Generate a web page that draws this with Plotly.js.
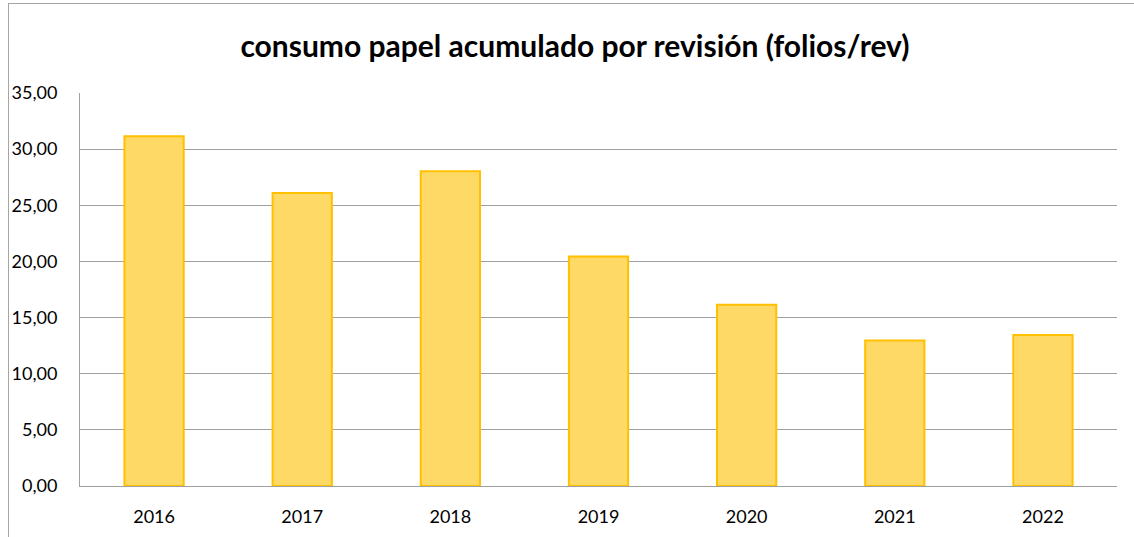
<!DOCTYPE html>
<html>
<head>
<meta charset="utf-8">
<script src="https://cdn.plot.ly/plotly-3.0.1.min.js"></script>
<style>
  html, body { margin: 0; padding: 0; background: #fff; }
  #wrap { position: relative; width: 1134px; height: 537px; overflow: hidden; }
  #chart { position: absolute; left: 0; top: 0; width: 1134px; height: 537px; }
  #frame { position: absolute; left: 8px; top: 3px; width: 1140px; height: 560px; border: 1px solid #a6a6a6; pointer-events: none; }
</style>
</head>
<body>
<div id="wrap">
  <div id="chart"></div>
  <div id="frame"></div>
</div>
<script>
const years = ['2016', '2017', '2018', '2019', '2020', '2021', '2022'];
const folios = [31.15, 26.1, 28.03, 20.45, 16.14, 12.96, 13.44];
const yTicks = [0, 5, 10, 15, 20, 25, 30, 35];

const trace = {
  type: 'bar',
  x: years,
  y: folios,
  marker: { color: '#FFD966', line: { color: '#FFC000', width: 2 } },
  width: 0.4,
  hoverinfo: 'x+y'
};

const layout = {
  width: 1134,
  height: 537,
  margin: { l: 80, r: 17, t: 93, b: 51 },
  paper_bgcolor: '#ffffff',
  plot_bgcolor: '#ffffff',
  separators: ',.',
  font: { family: 'Lato, "Open Sans", sans-serif', size: 18, color: '#000' },
  title: {
    text: '<b>consumo papel acumulado por revisión (folios/rev)</b>',
    font: { family: 'Lato, "Open Sans", sans-serif', size: 30, color: '#000' },
    x: 0.507, xanchor: 'center', xref: 'container',
    y: 0.913, yanchor: 'middle', yref: 'container'
  },
  xaxis: {
    type: 'category',
    showgrid: false,
    showline: true, linecolor: '#a0a0a0', linewidth: 1,
    ticks: '', ticklabelstandoff: 14,
    tickfont: { size: 18, color: '#000' }
  },
  yaxis: {
    range: [0, 35],
    tickvals: yTicks,
    tickformat: '.2f',
    showgrid: true, gridcolor: '#a0a0a0', gridwidth: 1,
    showline: true, linecolor: '#a0a0a0', linewidth: 1,
    zeroline: false,
    ticks: '', ticklabelstandoff: 18,
    tickfont: { size: 18, color: '#000' }
  },
  showlegend: false,
  bargap: 0.6
};

Plotly.newPlot('chart', [trace], layout, { displayModeBar: false, staticPlot: true });
</script>
</body>
</html>
